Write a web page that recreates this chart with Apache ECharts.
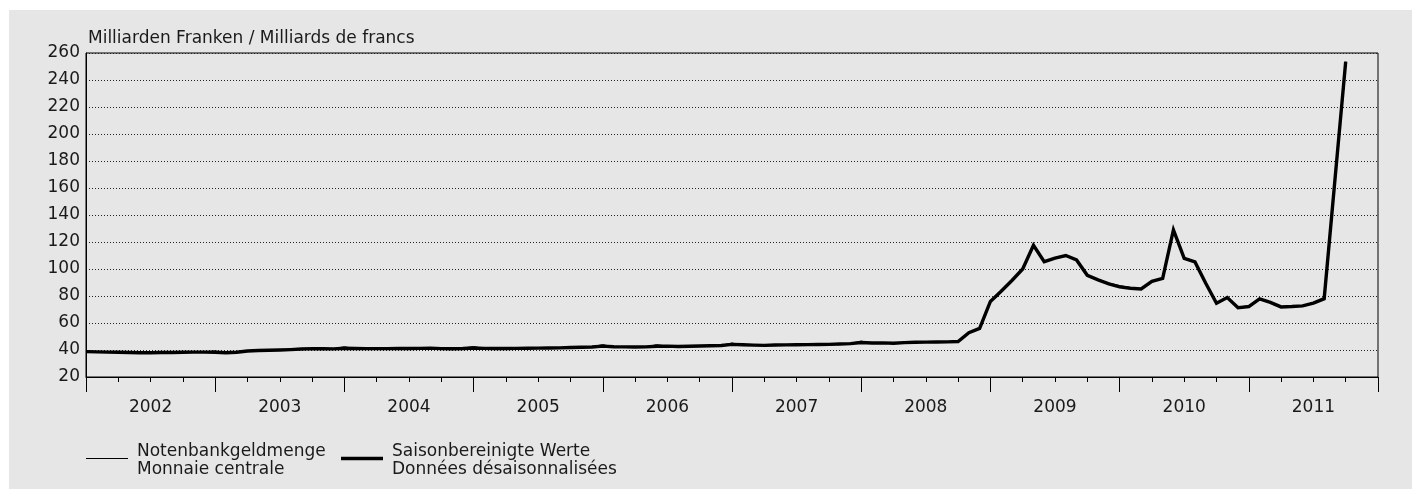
<!DOCTYPE html>
<html>
<head>
<meta charset="utf-8">
<script src="https://cdn.jsdelivr.net/npm/echarts@6/dist/echarts.min.js"></script>
<style>
  html, body { margin: 0; padding: 0; background: #ffffff; }
  #panel { position: absolute; left: 9px; top: 10px; width: 1403px; height: 479px; background: #e6e6e6; }
  #chart { position: absolute; left: 0; top: 0; width: 1412px; height: 497px; }
</style>
</head>
<body>
<div id="panel"></div>
<div id="chart"></div>
<script>
// Monthly values, end of month, Dec 2001 .. Sep 2011 (index = months after end of Dec 2001)
const years = ['2002','2003','2004','2005','2006','2007','2008','2009','2010','2011'];
const yTicks = [20,40,60,80,100,120,140,160,180,200,220,240,260];
const legendNames = [
  ['Notenbankgeldmenge', 'Monnaie centrale'],
  ['Saisonbereinigte Werte', 'Données désaisonnalisées']
];

// Saisonbereinigte Werte / Données désaisonnalisées
const seasonallyAdjusted = [
  38.8, 38.6, 38.4, 38.3, 38.1, 38.0, 38.0, 38.1, 38.2, 38.3, 38.4, 38.4,
  38.3, 38.0, 38.3, 39.3, 39.6, 39.8, 40.0, 40.3, 40.7, 41.0, 40.9, 40.8,
  41.3, 41.1, 41.0, 41.0, 41.0, 41.1, 41.1, 41.2, 41.4, 41.0, 40.9, 41.1,
  41.5, 41.2, 41.1, 41.1, 41.2, 41.3, 41.4, 41.5, 41.6, 41.8, 42.0, 42.2,
  42.9, 42.4, 42.3, 42.2, 42.3, 42.8, 42.9, 42.6, 42.8, 43.0, 43.1, 43.3,
  44.2, 43.9, 43.6, 43.4, 43.7, 43.8, 43.9, 44.0, 44.1, 44.2, 44.4, 44.7,
  45.5, 45.2, 45.3, 45.0, 45.5, 45.7, 45.8, 45.9, 46.0, 46.3, 52.8, 56.0,
  76.0, 83.5, 91.5, 100.0, 117.5, 105.4, 108.0, 110.0, 106.7, 95.3, 92.0, 89.0,
  86.8, 85.7, 85.2, 90.8, 93.0, 128.9, 107.9, 105.2, 89.4, 74.6, 78.8, 71.3,
  72.1, 77.8, 75.3, 71.9, 72.2, 72.7, 74.8, 78.0, 166.0, 253.6
];

// Notenbankgeldmenge / Monnaie centrale
const monetaryBase = [
  39.6, 38.4, 38.3, 38.4, 38.0, 37.8, 37.7, 37.9, 38.1, 38.3, 38.3, 38.6,
  39.3, 37.8, 38.2, 39.4, 39.5, 39.6, 39.7, 40.2, 40.7, 41.1, 40.8, 41.0,
  42.4, 40.9, 40.9, 41.1, 40.8, 40.9, 40.8, 41.1, 41.5, 40.8, 40.8, 41.4,
  42.6, 41.0, 41.0, 41.2, 41.0, 41.1, 41.1, 41.4, 41.6, 41.8, 42.1, 42.5,
  44.0, 42.2, 42.2, 42.3, 42.1, 44.0, 42.8, 42.4, 42.8, 43.0, 43.2, 43.5,
  45.2, 43.7, 43.5, 43.5, 43.5, 43.7, 43.6, 43.9, 44.1, 44.2, 44.6, 45.0,
  46.6, 45.0, 45.4, 44.8, 45.5, 45.5, 45.6, 45.8, 46.1, 46.0, 52.5, 56.3,
  76.5, 83.2, 91.0, 99.8, 117.2, 105.0, 107.6, 109.6, 106.8, 95.6, 92.3, 89.6,
  87.8, 86.3, 85.0, 90.6, 93.2, 128.4, 107.5, 105.0, 89.8, 75.0, 78.5, 71.6,
  73.0, 77.6, 75.0, 72.2, 72.4, 73.0, 75.2, 78.3, 166.0, 253.6
];

const FONT = 'DejaVu Sans';
const FS = 17;
const TXT = '#1a1a1a';

const chart = echarts.init(document.getElementById('chart'), null, { renderer: 'canvas' });
chart.setOption({
  animation: false,
  backgroundColor: 'transparent',
  textStyle: { fontFamily: FONT, color: TXT },
  title: {
    text: 'Milliarden Franken / Milliards de francs',
    left: 83, top: 25,
    textStyle: { fontFamily: FONT, fontSize: FS, fontWeight: 'normal', color: TXT }
  },
  grid: {
    left: 86, top: 53, right: 34, bottom: 120,
    show: true, borderColor: '#000', borderWidth: 1, backgroundColor: 'transparent'
  },
  xAxis: [
    {
      type: 'value', min: 0, max: 120, interval: 3,
      axisLine: { show: true, lineStyle: { color: '#000', width: 1 } },
      axisTick: { show: true, length: 5, lineStyle: { color: '#000' } },
      axisLabel: { show: false },
      splitLine: { show: false }
    },
    {
      type: 'category', data: years, boundaryGap: true, position: 'bottom',
      axisLine: { show: false },
      axisTick: { show: true, length: 15, interval: 0, lineStyle: { color: '#000' } },
      axisLabel: { margin: 22, fontFamily: FONT, fontSize: FS, color: TXT, interval: 0 },
      splitLine: { show: false }
    }
  ],
  yAxis: {
    type: 'value', min: yTicks[0], max: yTicks[yTicks.length - 1], interval: 20,
    axisLine: { show: true, lineStyle: { color: '#000', width: 1 } },
    axisTick: { show: false },
    axisLabel: { margin: 6, fontFamily: FONT, fontSize: FS, color: TXT },
    splitLine: { show: true, lineStyle: { color: '#222', width: 1, type: [1, 2] } }
  },
  graphic: [
    { type: 'line', shape: { x1: 86, y1: 458.5, x2: 128, y2: 458.5 }, style: { stroke: '#000', lineWidth: 1 } },
    { type: 'text', x: 137, y: 443, style: { text: legendNames[0].join('\n'), font: FS + 'px "' + FONT + '"', lineHeight: 18, fill: TXT, textVerticalAlign: 'top' } },
    { type: 'line', shape: { x1: 341, y1: 458.5, x2: 383, y2: 458.5 }, style: { stroke: '#000', lineWidth: 3.4 } },
    { type: 'text', x: 392, y: 443, style: { text: legendNames[1].join('\n'), font: FS + 'px "' + FONT + '"', lineHeight: 18, fill: TXT, textVerticalAlign: 'top' } }
  ],
  series: [
    {
      name: legendNames[1].join(' / '),
      type: 'line', xAxisIndex: 0, symbol: 'none',
      lineStyle: { color: '#000', width: 3.4, join: 'miter' },
      data: seasonallyAdjusted.map((v, i) => [i, v]),
      z: 3
    },
    {
      name: legendNames[0].join(' / '),
      type: 'line', xAxisIndex: 0, symbol: 'none',
      lineStyle: { color: '#000', width: 1 },
      data: monetaryBase.map((v, i) => [i, v]),
      z: 4
    }
  ]
});
</script>
</body>
</html>
